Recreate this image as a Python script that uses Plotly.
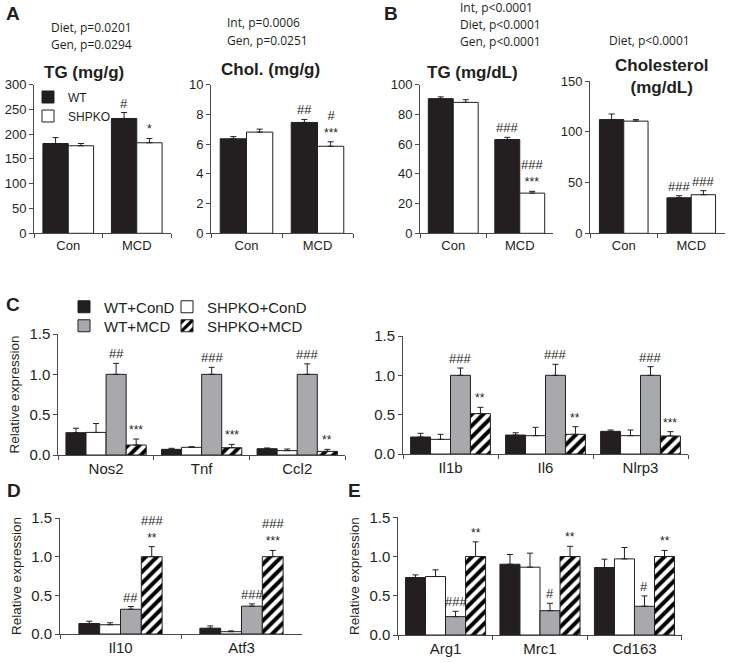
import plotly.graph_objects as go

# ---------------- data ----------------
diets = ["Con", "MCD"]
genotypes = ["WT", "SHPKO"]

liver_tg_wt = [181, 231.5]
liver_tg_wt_err = [12, 12]
liver_tg_ko = [176.5, 182.5]
liver_tg_ko_err = [4.5, 8.7]
liver_tg_sig_wt = ["", "#"]
liver_tg_sig_ko = ["", "*"]

liver_chol_wt = [6.35, 7.45]
liver_chol_wt_err = [0.15, 0.2]
liver_chol_ko = [6.8, 5.85]
liver_chol_ko_err = [0.2, 0.3]
liver_chol_sig_wt = ["", "##"]
liver_chol_sig_ko = ["", "#|***"]

serum_tg_wt = [90.5, 63]
serum_tg_wt_err = [1.2, 1.5]
serum_tg_ko = [88, 27]
serum_tg_ko_err = [1.8, 1.2]
serum_tg_sig_wt = ["", "###"]
serum_tg_sig_ko = ["", "###|***"]

serum_chol_wt = [112, 35]
serum_chol_wt_err = [5.5, 2]
serum_chol_ko = [110.5, 38]
serum_chol_ko_err = [1.5, 4]
serum_chol_sig_wt = ["", "###"]
serum_chol_sig_ko = ["", "###"]

groups = ["WT+ConD", "SHPKO+ConD", "WT+MCD", "SHPKO+MCD"]

genes_c1 = ["Nos2", "Tnf", "Ccl2"]
c1_wt_cond = [0.277, 0.07, 0.078]
c1_wt_cond_err = [0.055, 0.013, 0.009]
c1_ko_cond = [0.28, 0.095, 0.054]
c1_ko_cond_err = [0.11, 0.008, 0.02]
c1_wt_mcd = [1.0, 1.0, 1.0]
c1_wt_mcd_err = [0.136, 0.087, 0.13]
c1_ko_mcd = [0.124, 0.09, 0.045]
c1_ko_mcd_err = [0.074, 0.042, 0.025]
c1_sig_wt_mcd = ["##", "###", "###"]
c1_sig_ko_mcd = ["***", "***", "**"]

genes_c2 = ["Il1b", "Il6", "Nlrp3"]
c2_wt_cond = [0.216, 0.241, 0.288]
c2_wt_cond_err = [0.047, 0.029, 0.017]
c2_ko_cond = [0.186, 0.233, 0.233]
c2_ko_cond_err = [0.064, 0.106, 0.072]
c2_wt_mcd = [1.0, 1.0, 1.0]
c2_wt_mcd_err = [0.093, 0.14, 0.11]
c2_ko_mcd = [0.513, 0.25, 0.229]
c2_ko_mcd_err = [0.08, 0.097, 0.055]
c2_sig_wt_mcd = ["###", "###", "###"]
c2_sig_ko_mcd = ["**", "**", "***"]

genes_d = ["Il10", "Atf3"]
d_wt_cond = [0.135, 0.075]
d_wt_cond_err = [0.03, 0.03]
d_ko_cond = [0.12, 0.03]
d_ko_cond_err = [0.025, 0.01]
d_wt_mcd = [0.32, 0.36]
d_wt_mcd_err = [0.035, 0.03]
d_ko_mcd = [1.0, 1.0]
d_ko_mcd_err = [0.13, 0.08]
d_sig_wt_mcd = ["##", "###"]
d_sig_ko_mcd = ["###|**", "###|***"]

genes_e = ["Arg1", "Mrc1", "Cd163"]
e_wt_cond = [0.732, 0.902, 0.86]
e_wt_cond_err = [0.034, 0.124, 0.106]
e_ko_cond = [0.745, 0.864, 0.97]
e_ko_cond_err = [0.085, 0.179, 0.145]
e_wt_mcd = [0.234, 0.31, 0.366]
e_wt_mcd_err = [0.068, 0.094, 0.132]
e_ko_mcd = [1.0, 1.0, 1.0]
e_ko_mcd_err = [0.187, 0.13, 0.077]
e_sig_wt_mcd = ["###", "#", "#"]
e_sig_ko_mcd = ["**", "**", "**"]

stat_a1 = ["Diet, p=0.0201", "Gen, p=0.0294"]
stat_a2 = ["Int, p=0.0006", "Gen, p=0.0251"]
stat_b1 = ["Int, p<0.0001", "Diet, p<0.0001", "Gen, p<0.0001"]
stat_b2 = ["Diet, p<0.0001"]

# ---------------- styling ----------------
W, H = 729, 663
INK = "#231f20"
AXC = "#4a4a4a"
FONT = "Liberation Sans, Arial, sans-serif"
NOTE_FONT = "Open Sans, Noto Sans, sans-serif"

STYLES = {
    "black": dict(color=INK),
    "white": dict(color="white"),
    "gray": dict(color="#a7a9ac"),
    "hatch": dict(color="white", pattern=dict(shape="/", fgcolor="#000000", bgcolor="white",
                                              fgopacity=1, size=8, solidity=0.5,
                                              fillmode="overlay")),
}
LEGEND_W = {"WT+ConD": 58, "SHPKO+ConD": 120, "WT+MCD": 58, "SHPKO+MCD": 120}


def px_x(p):
    return p / W


def px_y(p):
    return 1 - p / H


fig = go.Figure()
annotations = []


def sig_text(s):
    parts = s.split("|")
    out = []
    for p in parts:
        if p.startswith("*"):
            out.append('<span style="font-size:12px">' + p + "</span>")
        else:
            out.append(p)
    return "<br>".join(out)


def add_panel(idx, cats, series, bar_w, legend_map=None):
    """series: list of (name, values, errors, style, sig)"""
    n = len(series)
    xa = "x" if idx == 1 else f"x{idx}"
    ya = "y" if idx == 1 else f"y{idx}"
    for k, (name, vals, errs, style, sig) in enumerate(series):
        off = -n * bar_w / 2 + k * bar_w
        leg = legend_map.get(name) if legend_map else None
        extra = {}
        if leg and name in LEGEND_W:
            extra["legendwidth"] = LEGEND_W[name]
        fig.add_trace(go.Bar(
            x=cats, y=vals, name=name, width=bar_w, offset=off,
            xaxis=xa, yaxis=ya,
            marker=dict(line=dict(color=INK, width=1), **STYLES[style]),
            error_y=dict(type="data", symmetric=False, array=errs,
                         arrayminus=[0] * len(errs), color=INK, thickness=1, width=3),
            showlegend=leg is not None,
            legend=leg if leg else "legend",
            hoverinfo="skip",
            **extra,
        ))
        if sig:
            for j, s in enumerate(sig):
                if not s:
                    continue
                annotations.append(dict(
                    x=j + off + bar_w / 2, y=vals[j] + errs[j], xref=xa, yref=ya,
                    text=sig_text(s), showarrow=False, yanchor="bottom", yshift=0,
                    font=dict(family=FONT, size=13, color=INK),
                ))


def axis_pair(idx, x0, x1, ytop, ybot, yrange, dtick, tickfmt=None, tick_size=13,
              cat_size=13, ytitle=None, ncat=2):
    xname = "xaxis" if idx == 1 else f"xaxis{idx}"
    yname = "yaxis" if idx == 1 else f"yaxis{idx}"
    ya = "y" if idx == 1 else f"y{idx}"
    xa = "x" if idx == 1 else f"x{idx}"
    xax = dict(domain=[px_x(x0), px_x(x1)], anchor=ya, type="category",
               range=[-0.5, ncat - 0.5], showline=True, linecolor=AXC, linewidth=1,
               ticks="outside", ticklen=4, tickcolor=AXC, tickson="boundaries",
               showgrid=False, zeroline=False, fixedrange=True,
               tickfont=dict(family=FONT, size=cat_size, color=INK))
    yax = dict(domain=[px_y(ybot), px_y(ytop)], anchor=xa, range=yrange, dtick=dtick,
               tick0=0, showline=True, linecolor=AXC, linewidth=1, ticks="outside",
               ticklen=4, tickcolor=AXC, showgrid=False, zeroline=False, fixedrange=True,
               tickfont=dict(family=FONT, size=tick_size, color=INK))
    if tickfmt:
        yax["tickformat"] = tickfmt
    if ytitle:
        yax["title"] = dict(text=ytitle, standoff=6,
                            font=dict(family=FONT, size=13.5, color=INK))
    fig.update_layout(**{xname: xax, yname: yax})


# ---- Panel A ----
axis_pair(1, 34, 171, 84.5, 233.3, [0, 300], 50)
add_panel(1, diets, [
    ("WT", liver_tg_wt, liver_tg_wt_err, "black", liver_tg_sig_wt),
    ("SHPKO", liver_tg_ko, liver_tg_ko_err, "white", liver_tg_sig_ko),
], 0.37, legend_map={"WT": "legend", "SHPKO": "legend"})

axis_pair(2, 211, 353, 84.5, 233.3, [0, 10], 2)
add_panel(2, diets, [
    ("WT", liver_chol_wt, liver_chol_wt_err, "black", liver_chol_sig_wt),
    ("SHPKO", liver_chol_ko, liver_chol_ko_err, "white", liver_chol_sig_ko),
], 0.37)

# ---- Panel B ----
axis_pair(3, 420, 553, 84.5, 233.3, [0, 100], 20)
add_panel(3, diets, [
    ("WT", serum_tg_wt, serum_tg_wt_err, "black", serum_tg_sig_wt),
    ("SHPKO", serum_tg_ko, serum_tg_ko_err, "white", serum_tg_sig_ko),
], 0.375)

axis_pair(4, 590, 725, 81, 233.3, [0, 150], 50)
add_panel(4, diets, [
    ("WT", serum_chol_wt, serum_chol_wt_err, "black", serum_chol_sig_wt),
    ("SHPKO", serum_chol_ko, serum_chol_ko_err, "white", serum_chol_sig_ko),
], 0.36)

# ---- Panel C ----
axis_pair(5, 58.3, 345, 334, 455, [0, 1.5], 0.5, ".1f", 15, 15, "Relative expression", 3)
add_panel(5, genes_c1, [
    (groups[0], c1_wt_cond, c1_wt_cond_err, "black", None),
    (groups[1], c1_ko_cond, c1_ko_cond_err, "white", None),
    (groups[2], c1_wt_mcd, c1_wt_mcd_err, "gray", c1_sig_wt_mcd),
    (groups[3], c1_ko_mcd, c1_ko_mcd_err, "hatch", c1_sig_ko_mcd),
], 0.21, legend_map={groups[0]: "legend2", groups[1]: "legend2",
                     groups[2]: "legend3", groups[3]: "legend3"})

axis_pair(6, 403, 688, 336, 454, [0, 1.5], 0.5, ".1f", 15, 15, None, 3)
add_panel(6, genes_c2, [
    (groups[0], c2_wt_cond, c2_wt_cond_err, "black", None),
    (groups[1], c2_ko_cond, c2_ko_cond_err, "white", None),
    (groups[2], c2_wt_mcd, c2_wt_mcd_err, "gray", c2_sig_wt_mcd),
    (groups[3], c2_ko_mcd, c2_ko_mcd_err, "hatch", c2_sig_ko_mcd),
], 0.21)

# ---- Panel D ----
axis_pair(7, 60, 302, 518, 634, [0, 1.5], 0.5, ".1f", 15, 15, "Relative expression", 2)
add_panel(7, genes_d, [
    (groups[0], d_wt_cond, d_wt_cond_err, "black", None),
    (groups[1], d_ko_cond, d_ko_cond_err, "white", None),
    (groups[2], d_wt_mcd, d_wt_mcd_err, "gray", d_sig_wt_mcd),
    (groups[3], d_ko_mcd, d_ko_mcd_err, "hatch", d_sig_ko_mcd),
], 0.172)

# ---- Panel E ----
axis_pair(8, 398.3, 681.7, 517.3, 635, [0, 1.5], 0.5, ".1f", 15, 15, "Relative expression", 3)
add_panel(8, genes_e, [
    (groups[0], e_wt_cond, e_wt_cond_err, "black", None),
    (groups[1], e_ko_cond, e_ko_cond_err, "white", None),
    (groups[2], e_wt_mcd, e_wt_mcd_err, "gray", e_sig_wt_mcd),
    (groups[3], e_ko_mcd, e_ko_mcd_err, "hatch", e_sig_ko_mcd),
], 0.212)

# ---- titles, letters, stats ----
def paper_text(text, x, y, size, bold=False, family=FONT, xanchor="center"):
    annotations.append(dict(
        x=px_x(x), y=px_y(y), xref="paper", yref="paper", xanchor=xanchor, yanchor="middle",
        text=f"<b>{text}</b>" if bold else text, showarrow=False,
        font=dict(family=family, size=size, color=INK)))

paper_text("A", 4, 13, 19, True, xanchor="left")
paper_text("B", 382, 13, 19, True, xanchor="left")
paper_text("C", 4, 305, 19, True, xanchor="left")
paper_text("D", 5, 490, 19, True, xanchor="left")
paper_text("E", 346, 490, 19, True, xanchor="left")

paper_text("TG (mg/g)", 84, 72, 17, True)
paper_text("Chol. (mg/g)", 270, 70, 17, True)
paper_text("TG (mg/dL)", 472, 72, 17, True)
paper_text("Cholesterol<br>(mg/dL)", 662, 76.5, 17, True)

for i, s in enumerate(stat_a1):
    paper_text(s, 49, 28 + 17 * i, 12, family=NOTE_FONT, xanchor="left")
for i, s in enumerate(stat_a2):
    paper_text(s, 225, 23 + 17 * i, 12, family=NOTE_FONT, xanchor="left")
for i, s in enumerate(stat_b1):
    paper_text(s, 458, 8 + 16.5 * i, 12, family=NOTE_FONT, xanchor="left")
for i, s in enumerate(stat_b2):
    paper_text(s, 607, 40 + 17 * i, 12, family=NOTE_FONT, xanchor="left")

leg_common = dict(bgcolor="rgba(0,0,0,0)", borderwidth=0, itemclick=False,
                  itemdoubleclick=False, tracegroupgap=0)

fig.update_layout(
    width=W, height=H, margin=dict(l=0, r=0, t=0, b=0, pad=0, autoexpand=False),
    paper_bgcolor="white", plot_bgcolor="white",
    barmode="overlay", showlegend=True,
    annotations=annotations,
    legend=dict(x=px_x(28), y=px_y(82.5), xanchor="left", yanchor="top",
                orientation="v", font=dict(family=FONT, size=12, color=INK), **leg_common),
    legend2=dict(x=px_x(64), y=px_y(290.5), xanchor="left", yanchor="top",
                 orientation="h", font=dict(family=FONT, size=15, color=INK), **leg_common),
    legend3=dict(x=px_x(64), y=px_y(309.5), xanchor="left", yanchor="top",
                 orientation="h", font=dict(family=FONT, size=15, color=INK), **leg_common),
)

fig.write_html(
    "out.html",
    config={"displayModeBar": False, "staticPlot": False},
    post_script="document.body.style.margin='0';document.body.style.overflow='hidden';",
)
